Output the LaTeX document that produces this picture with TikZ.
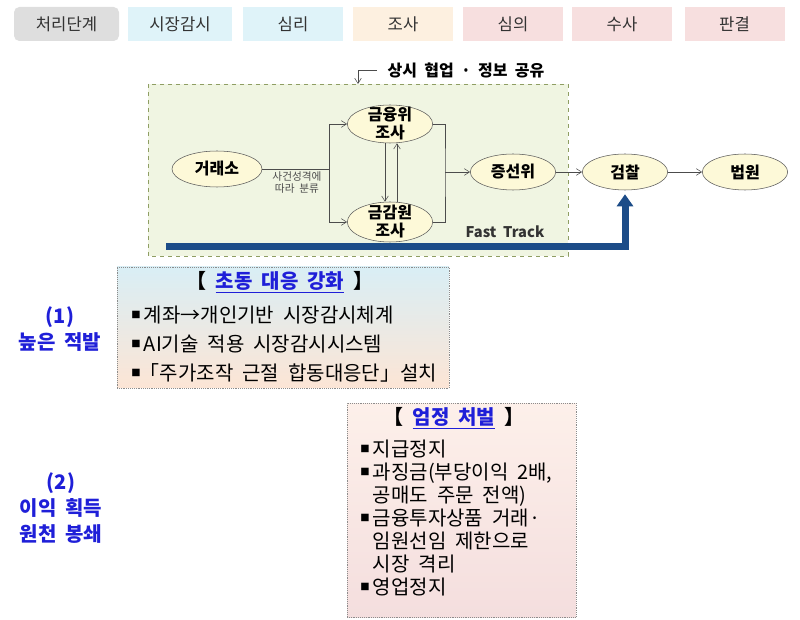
\documentclass[tikz,border=0pt]{standalone}
\usepackage[]{fontspec}
\setmainfont[WordSpace=2]{Noto Sans CJK KR}
\usepackage[dvipsnames,svgnames]{xcolor}
\usepackage[]{tikz}
\usetikzlibrary{positioning}
\usetikzlibrary{arrows.meta}
\usetikzlibrary{shapes.geometric}
\definecolor{stagegray}{HTML}{DEDEDE}
\definecolor{stageblue}{HTML}{DFF3F9}
\definecolor{stagepeach}{HTML}{FDF0E0}
\definecolor{stagepink}{HTML}{F7DFDF}
\definecolor{trackgreen}{HTML}{F0F5E2}
\definecolor{trackline}{HTML}{8F9E63}
\definecolor{organfill}{HTML}{FDF9D8}
\definecolor{fastblue}{HTML}{1C4C88}
\definecolor{goalblue}{HTML}{1F1FD8}
\definecolor{cardblue}{HTML}{D9EEF5}
\definecolor{cardpeach}{HTML}{FCE5D5}
\definecolor{penaltytop}{HTML}{FDF0EA}
\definecolor{penaltybottom}{HTML}{F4DEDE}
\newcommand{\sqbullet}{\raisebox{3pt}{\fontsize{7}{7}\selectfont ■}\,}

\begin{document}
\begin{tikzpicture}[x=0.75pt,y=-0.75pt,
    stage/.style={minimum width=75pt,minimum height=25.5pt,inner sep=0pt,font=\fontsize{12.5}{13}\selectfont,text=black!80},
    organ/.style={ellipse,draw=black!65,fill=organfill,minimum width=64pt,minimum height=27pt,inner xsep=0pt,inner ysep=-4pt,align=center,font=\bfseries\fontsize{12}{13.5}\selectfont},
    flow/.style={-{Straight Barb[length=4pt,width=5pt]},black!70},
    plain/.style={black!70},
    card/.style={draw=black!45,densely dotted,inner sep=0pt},
    cardtext/.style={align=left,inner sep=0pt,anchor=west},
    goal/.style={align=center,text=goalblue,font=\bfseries\fontsize{15}{19.5}\selectfont}]
            \useasboundingbox (0,0) rectangle (800,620);
            \node[stage,fill=stagegray,rounded corners=4pt,minimum width=78.75pt] (stage0) at (66.5,24) {처리단계};
            \node[stage,fill=stageblue,minimum width=78pt] (stage1) at (180,24) {시장감시};
            \node[stage,fill=stageblue] (stage2) at (293,24) {심리};
            \node[stage,fill=stagepeach] (stage3) at (403,24) {조사};
            \node[stage,fill=stagepink] (stage4) at (513,24) {심의};
            \node[stage,fill=stagepink] (stage5) at (622,24) {수사};
            \node[stage,fill=stagepink] (stage6) at (734.5,24) {판결};
            \draw[trackline,dashed,fill=trackgreen] (148,84) rectangle (568,256);
            \node[font=\bfseries\fontsize{12}{13}\selectfont,inner sep=2pt] (share) at (466,70) {상시 협업 · 정보 공유};
            \coordinate (sharein) at (358,84);
            \draw[flow] ([xshift=-6pt]share.west) -| (sharein);
            \node[organ,minimum width=67.5pt] (exchange) at (217,169) {거래소};
            \node[organ,minimum height=28.5pt] (fsc) at (390,124) {금융위\\조사};
            \node[organ,minimum height=30pt] (fss) at (390,222) {금감원\\조사};
            \node[organ] (sfc) at (513,172) {증선위};
            \node[organ] (prosecution) at (625,172) {검찰};
            \node[organ] (court) at (745,172) {법원};
            \coordinate (split) at (329,169);
            \coordinate (merge) at (445,172);
            \draw[plain] (exchange) -- (split);
            \draw[flow] (split) |- (fsc.west);
            \draw[flow] (split) |- (fss.west);
            \draw[flow] ([xshift=-3.75pt]fsc.south) -- ([xshift=-3.75pt]fss.north);
            \draw[flow] ([xshift=5.25pt]fss.north) -- ([xshift=5.25pt]fsc.south);
            \draw[plain] (fsc.east) -| (merge) |- (fss.east);
            \draw[flow] (merge) -- (sfc.west);
            \draw[flow] (sfc) -- (prosecution);
            \draw[flow] (prosecution) -- (court);
            \node[font=\fontsize{8}{9}\selectfont,text=black!70,align=center] (sortnote) at (297,183) {사건성격에\\따라 분류};
            \node[font=\bfseries\fontsize{11}{12}\selectfont,text=black!80] (fasttrack) at (505,232) {Fast Track};
            \coordinate (trackstart) at (166,247);
            \draw[fastblue,line width=5.25pt,-{Triangle[width=12pt,length=9pt]}] (trackstart) -| ([yshift=-3pt]prosecution.south);
            \node[card,top color=cardblue,bottom color=cardpeach,minimum width=249pt,minimum height=90.75pt] (alert) at (283,327.5) {};
            \node[font=\bfseries\fontsize{15}{16}\selectfont] (alerttitle) at (280,282) {【 \textcolor{goalblue}{\underline{초동 대응 강화}} 】};
            \node[cardtext,font=\fontsize{15}{21.75}\selectfont] (alertlist) at (131,344) {\sqbullet 계좌→개인기반 시장감시체계\\\sqbullet AI기술 적용 시장감시시스템\\\sqbullet\hspace{-0.2em}「주가조작 근절 합동대응단」설치};
            \node[card,top color=penaltytop,bottom color=penaltybottom,minimum width=171.75pt,minimum height=160.5pt] (penalty) at (461.5,510) {};
            \node[font=\bfseries\fontsize{15}{16}\selectfont] (penaltytitle) at (454,418) {【 \textcolor{goalblue}{\underline{엄정 처벌}} 】};
            \node[cardtext,font=\fontsize{15}{17.25}\selectfont] (penaltylist) at (360,518) {\sqbullet 지급정지\\\sqbullet 과징금(부당이익 2배,\\\phantom{\sqbullet}공매도 주문 전액)\\\sqbullet 금융투자상품 거래·\\\phantom{\sqbullet}임원선임 제한으로\\\phantom{\sqbullet}시장 격리\\\sqbullet 영업정지};
            \node[goal] (detect) at (60,329) {(1)\\높은 적발};
            \node[goal] (block) at (61,508) {(2)\\이익 획득\\원천 봉쇄};
        \end{tikzpicture}
\end{document}
